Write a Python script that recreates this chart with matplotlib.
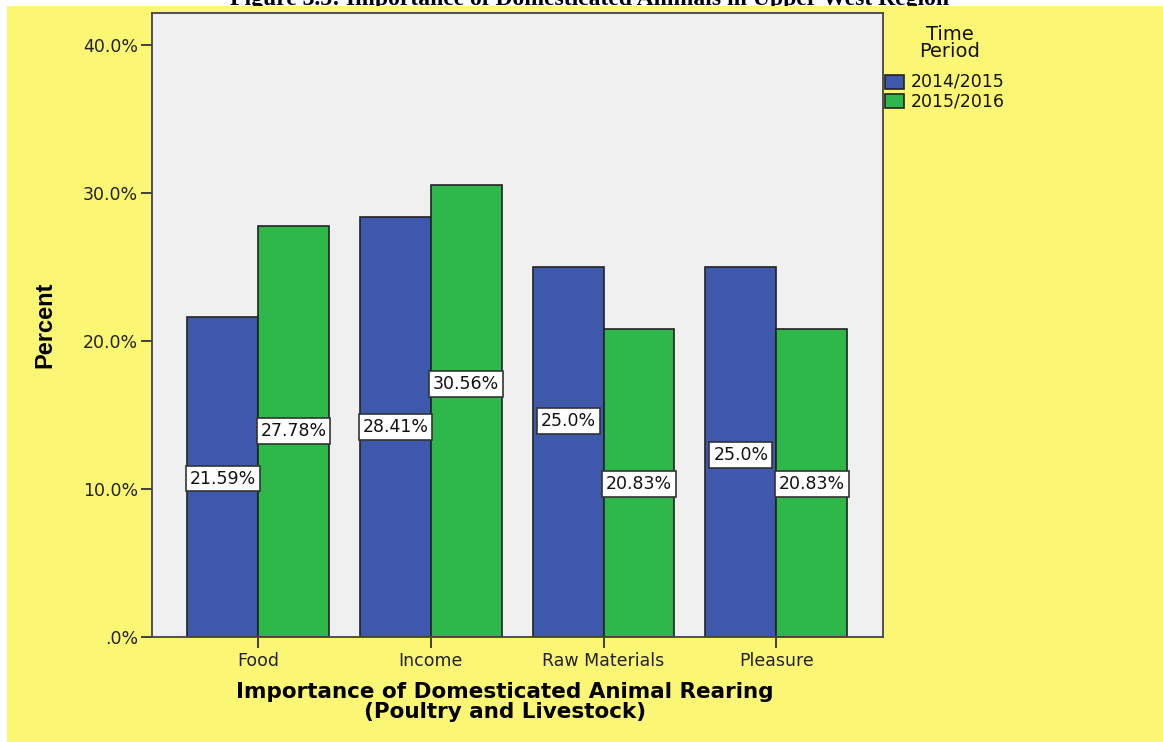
import matplotlib.pyplot as plt
from matplotlib.patches import Rectangle
import numpy as np

categories = ["Food", "Income", "Raw Materials", "Pleasure"]
periods = ["2014/2015", "2015/2016"]
pct_2014 = [21.59, 28.41, 25.0, 25.0]
pct_2015 = [27.78, 30.56, 20.83, 20.83]
label_2014 = ["21.59%", "28.41%", "25.0%", "25.0%"]
label_2015 = ["27.78%", "30.56%", "20.83%", "20.83%"]

# heights (in percent) where the value boxes sit on each bar
box_y_2014 = [10.7, 14.2, 14.6, 12.3]
box_y_2015 = [13.9, 17.1, 10.35, 10.35]

BLUE = "#3e58ac"
GREEN = "#2eb84a"
YELLOW = "#fbf673"


def main():
    plt.rcParams["font.family"] = ["DejaVu Sans"]
    fig = plt.figure(figsize=(11.63, 7.42), dpi=100, facecolor="white")

    # yellow chart background with a white margin
    fig.patches.append(Rectangle((7 / 1163, 0), 1, 1 - 6 / 742,
                                 transform=fig.transFigure,
                                 facecolor=YELLOW, edgecolor="none",
                                 zorder=-10))
    fig.text(0.507, 1 - 5 / 742,
             "Figure 3.5: Importance of Domesticated Animals in Upper West Region",
             ha="center", va="baseline", fontsize=17, fontweight="bold",
             family="Liberation Serif", zorder=-20)

    ax = fig.add_axes([152 / 1163, 1 - 637 / 742,
                       (883 - 152) / 1163, (637 - 13) / 742])
    ax.set_facecolor("#f0f0f0")

    x = np.arange(len(categories))
    w = 0.41
    ax.bar(x - w / 2, pct_2014, width=w, color=BLUE, edgecolor="#222222",
           linewidth=1.2, label=periods[0], zorder=2)
    ax.bar(x + w / 2, pct_2015, width=w, color=GREEN, edgecolor="#222222",
           linewidth=1.2, label=periods[1], zorder=2)

    box = dict(boxstyle="square,pad=0.22", facecolor="white",
               edgecolor="#333333", linewidth=1.2)
    for i in range(len(categories)):
        ax.text(x[i] - w / 2, box_y_2014[i], label_2014[i], ha="center",
                va="center", fontsize=12.5, bbox=box, zorder=3,
                color="#111111")
        ax.text(x[i] + w / 2, box_y_2015[i], label_2015[i], ha="center",
                va="center", fontsize=12.5, bbox=box, zorder=3,
                color="#111111")

    ax.set_xlim(-0.615, 3.618)
    ax.set_ylim(0, 42.16)
    ax.set_yticks([0, 10, 20, 30, 40])
    ax.set_yticklabels([".0%", "10.0%", "20.0%", "30.0%", "40.0%"])
    ax.set_xticks(x)
    ax.set_xticklabels(categories)
    ax.tick_params(axis="both", length=8, width=1.3, color="#333333",
                   labelsize=12.5, labelcolor="#222222")
    ax.tick_params(axis="x", pad=3)
    ax.tick_params(axis="y", pad=2)
    for s in ax.spines.values():
        s.set_color("#444444")
        s.set_linewidth(1.3)

    ax.set_ylabel("Percent", fontsize=17, fontweight="bold",
                  family="Liberation Sans", va="center")
    ax.yaxis.set_label_coords(-0.146, 0.5)
    ax.set_xlabel("Importance of Domesticated Animal Rearing\n"
                  "(Poultry and Livestock)", fontsize=15.5,
                  fontweight="bold", linespacing=1.0, va="top")
    ax.xaxis.set_label_coords(0.483, -0.072)

    # legend drawn by hand in figure pixels
    fig.text(950 / 1163, 1 - 43 / 742, "Time\nPeriod", ha="center",
             va="center", fontsize=14, linespacing=0.9, color="#111111")
    for j, (name, col) in enumerate(zip(periods, [BLUE, GREEN])):
        yc = 82 + 19 * j
        fig.patches.append(Rectangle((885 / 1163, 1 - (yc + 7) / 742),
                                     19 / 1163, 14 / 742,
                                     transform=fig.transFigure,
                                     facecolor=col, edgecolor="#222222",
                                     linewidth=1.2))
        fig.text(911 / 1163, 1 - yc / 742, name, ha="left", va="center",
                 fontsize=12.5, color="#111111")

    fig.savefig("out.png", dpi=100, facecolor=fig.get_facecolor())


if __name__ == "__main__":
    main()
